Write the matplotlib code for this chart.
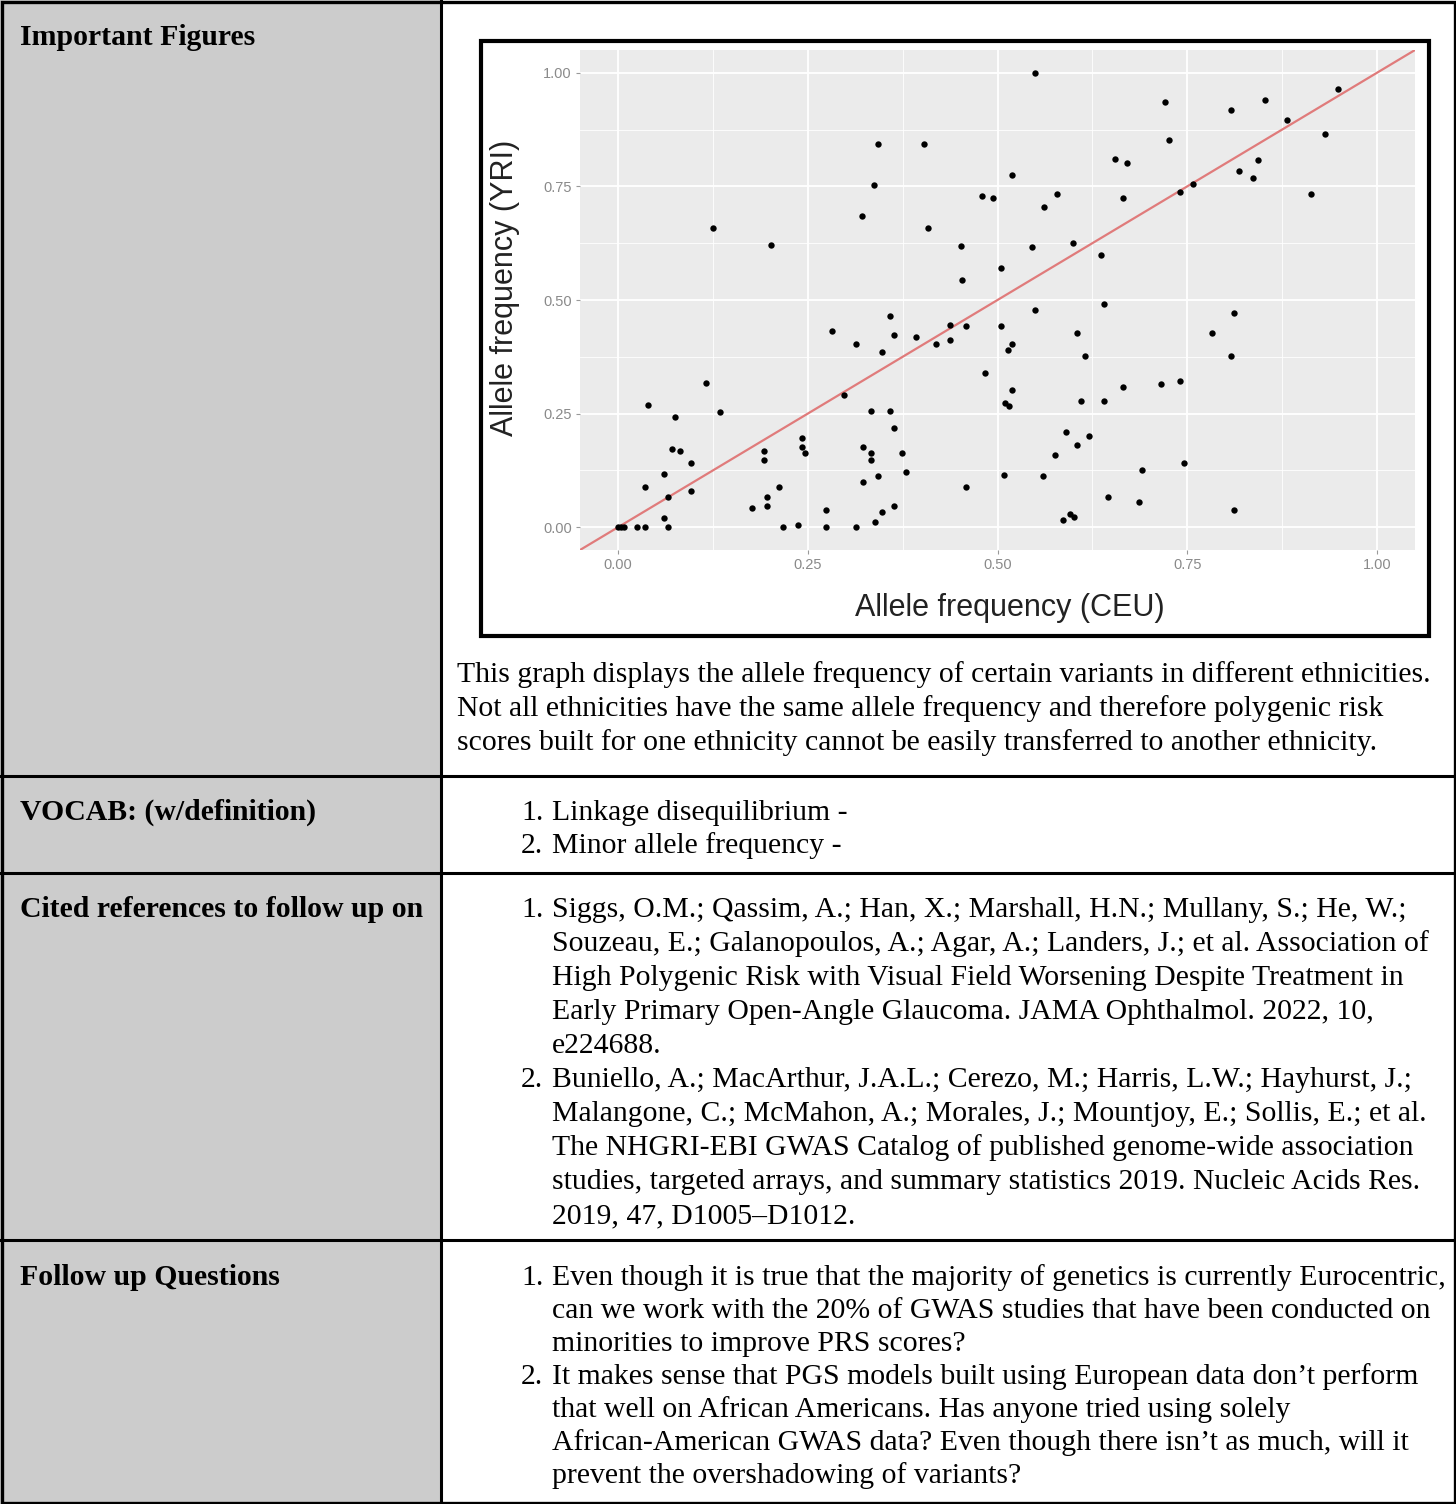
import matplotlib
matplotlib.use("Agg")
import matplotlib.pyplot as plt
from matplotlib.patches import Rectangle

# Allele frequencies (CEU on x, YRI on y)
ceu = [0.125, 0.201, 0.342, 0.403, 0.337, 0.322, 0.408, 0.452, 0.453, 0.358,
       0.282, 0.437, 0.550, 0.721, 0.853, 0.807, 0.948, 0.882, 0.932, 0.726,
       0.655, 0.671, 0.519, 0.843, 0.818, 0.837, 0.757, 0.741, 0.913, 0.479,
       0.494, 0.579, 0.665, 0.561, 0.545, 0.600, 0.636, 0.504, 0.550, 0.640,
       0.812, 0.314, 0.364, 0.348, 0.392, 0.419, 0.438, 0.116, 0.040, 0.075,
       0.135, 0.298, 0.333, 0.358, 0.364, 0.242, 0.242, 0.247, 0.192, 0.192,
       0.323, 0.333, 0.333, 0.374, 0.071, 0.082, 0.096, 0.060, 0.035, 0.096,
       0.066, 0.060, 0.066, 0.380, 0.342, 0.323, 0.212, 0.197, 0.197, 0.176,
       0.364, 0.348, 0.274, 0.338, 0.237, 0.217, 0.274, 0.313, 0.000, 0.004,
       0.008, 0.025, 0.035, 0.458, 0.504, 0.605, 0.782, 0.519, 0.514, 0.615,
       0.807, 0.483, 0.715, 0.741, 0.665, 0.519, 0.610, 0.640, 0.510, 0.515,
       0.590, 0.621, 0.605, 0.576, 0.746, 0.690, 0.509, 0.560, 0.458, 0.646,
       0.686, 0.812, 0.596, 0.601, 0.586]
yri = [0.658, 0.621, 0.844, 0.844, 0.754, 0.685, 0.658, 0.618, 0.544, 0.464,
       0.432, 0.445, 1.000, 0.935, 0.940, 0.918, 0.965, 0.895, 0.866, 0.853,
       0.811, 0.801, 0.775, 0.807, 0.784, 0.769, 0.756, 0.738, 0.733, 0.729,
       0.724, 0.733, 0.724, 0.705, 0.617, 0.626, 0.599, 0.570, 0.479, 0.492,
       0.472, 0.404, 0.423, 0.386, 0.419, 0.404, 0.412, 0.317, 0.270, 0.243,
       0.253, 0.291, 0.256, 0.256, 0.218, 0.196, 0.177, 0.163, 0.167, 0.149,
       0.177, 0.163, 0.149, 0.163, 0.172, 0.167, 0.141, 0.117, 0.089, 0.080,
       0.067, 0.020, 0.000, 0.121, 0.113, 0.099, 0.089, 0.067, 0.047, 0.042,
       0.047, 0.034, 0.038, 0.012, 0.006, 0.000, 0.000, 0.000, 0.000, 0.000,
       0.000, 0.000, 0.000, 0.442, 0.442, 0.427, 0.427, 0.404, 0.390, 0.376,
       0.376, 0.339, 0.316, 0.321, 0.308, 0.302, 0.278, 0.278, 0.273, 0.266,
       0.209, 0.200, 0.181, 0.160, 0.141, 0.127, 0.116, 0.112, 0.089, 0.067,
       0.056, 0.039, 0.029, 0.022, 0.016]
ticks = [0.0, 0.25, 0.5, 0.75, 1.0]
tick_labels = ["0.00", "0.25", "0.50", "0.75", "1.00"]

# Table text
row_labels = ["Important Figures", "VOCAB: (w/definition)",
              "Cited references to follow up on", "Follow up Questions"]
figure_note = [
    "This graph displays the allele frequency of certain variants in different ethnicities.",
    "Not all ethnicities have the same allele frequency and therefore polygenic risk",
    "scores built for one ethnicity cannot be easily transferred to another ethnicity.",
]
vocab = [["Linkage disequilibrium -"], ["Minor allele frequency -"]]
refs = [
    ["Siggs, O.M.; Qassim, A.; Han, X.; Marshall, H.N.; Mullany, S.; He, W.;",
     "Souzeau, E.; Galanopoulos, A.; Agar, A.; Landers, J.; et al. Association of",
     "High Polygenic Risk with Visual Field Worsening Despite Treatment in",
     "Early Primary Open-Angle Glaucoma. JAMA Ophthalmol. 2022, 10,",
     "e224688."],
    ["Buniello, A.; MacArthur, J.A.L.; Cerezo, M.; Harris, L.W.; Hayhurst, J.;",
     "Malangone, C.; McMahon, A.; Morales, J.; Mountjoy, E.; Sollis, E.; et al.",
     "The NHGRI-EBI GWAS Catalog of published genome-wide association",
     "studies, targeted arrays, and summary statistics 2019. Nucleic Acids Res.",
     "2019, 47, D1005\u2013D1012."],
]
questions = [
    ["Even though it is true that the majority of genetics is currently Eurocentric,",
     "can we work with the 20% of GWAS studies that have been conducted on",
     "minorities to improve PRS scores?"],
    ["It makes sense that PGS models built using European data don\u2019t perform",
     "that well on African Americans. Has anyone tried using solely",
     "African-American GWAS data? Even though there isn\u2019t as much, will it",
     "prevent the overshadowing of variants?"],
]

W, H = 1456, 1504
fig = plt.figure(figsize=(W / 100, H / 100), dpi=100)
bg = fig.add_axes([0, 0, 1, 1])
bg.set_xlim(0, W)
bg.set_ylim(H, 0)
bg.axis("off")

SERIF = "Liberation Serif"
FS = 21.4  # ~30 px
col_x = 441
row_y = [0, 776, 873, 1240, H]

# table cells
for i in range(4):
    bg.add_patch(Rectangle((0, row_y[i]), col_x, row_y[i + 1] - row_y[i],
                           facecolor="#cccccc", edgecolor="none"))
for y in row_y[1:-1]:
    bg.plot([0, W], [y, y], color="black", lw=2.2)
bg.plot([col_x, col_x], [0, H], color="black", lw=2.2)
bg.add_patch(Rectangle((1.5, 1.5), W - 3, H - 3, fill=False, edgecolor="black", lw=2.4))

def put(x, y, s, bold=False):
    bg.text(x, y, s, fontsize=FS, family=SERIF, va="baseline", ha="left",
            fontweight="bold" if bold else "normal", color="black")

label_base = [45, 820, 917, 1285]
for lab, yb in zip(row_labels, label_base):
    put(20, yb, lab, bold=True)

for k, line in enumerate(figure_note):
    put(457, 682 + 34 * k, line)

def numbered(items, y0, step):
    y = y0
    for n, item in enumerate(items, start=1):
        put(521, y, f"{n}.")
        for line in item:
            put(552, y, line)
            y += step
    return y

numbered(vocab, 820, 33)
numbered(refs, 917, 34)
numbered(questions, 1285, 33)

# embedded chart frame
bg.add_patch(Rectangle((481, 41), 948, 595, facecolor="white", edgecolor="black", lw=3))

# scatter panel
ax = fig.add_axes([580 / W, 1 - 550 / H, 835 / W, 500 / H])
ax.set_facecolor("#ebebeb")
ax.set_xlim(-0.05, 1.05)
ax.set_ylim(-0.05, 1.05)
ax.set_xticks(ticks)
ax.set_xticklabels(tick_labels)
ax.set_yticks(ticks)
ax.set_yticklabels(tick_labels)
ax.set_xticks([0.125, 0.375, 0.625, 0.875], minor=True)
ax.set_yticks([0.125, 0.375, 0.625, 0.875], minor=True)
ax.grid(which="major", color="white", lw=1.3)
ax.grid(which="minor", color="white", lw=0.6)
ax.set_axisbelow(True)
for sp in ax.spines.values():
    sp.set_visible(False)
ax.tick_params(which="major", length=3, width=0.8, color="#999999",
               labelcolor="#8a8a8a", labelsize=10.5, pad=3)
ax.tick_params(which="minor", length=0)
for t in ax.get_xticklabels() + ax.get_yticklabels():
    t.set_family("Liberation Sans")

ax.axline((0, 0), slope=1, color="#e07b7b", lw=1.6, zorder=2)
ax.scatter(ceu, yri, s=21, color="black", zorder=3, linewidths=0)

bg.text(1010, 608, "Allele frequency (CEU)", fontsize=22, family="Liberation Sans",
        ha="center", va="center", color="#222222")
bg.text(505, 288, "Allele frequency (YRI)", fontsize=22, family="Liberation Sans",
        ha="center", va="center", rotation=90, color="#222222")

fig.savefig("out.png", dpi=100)
